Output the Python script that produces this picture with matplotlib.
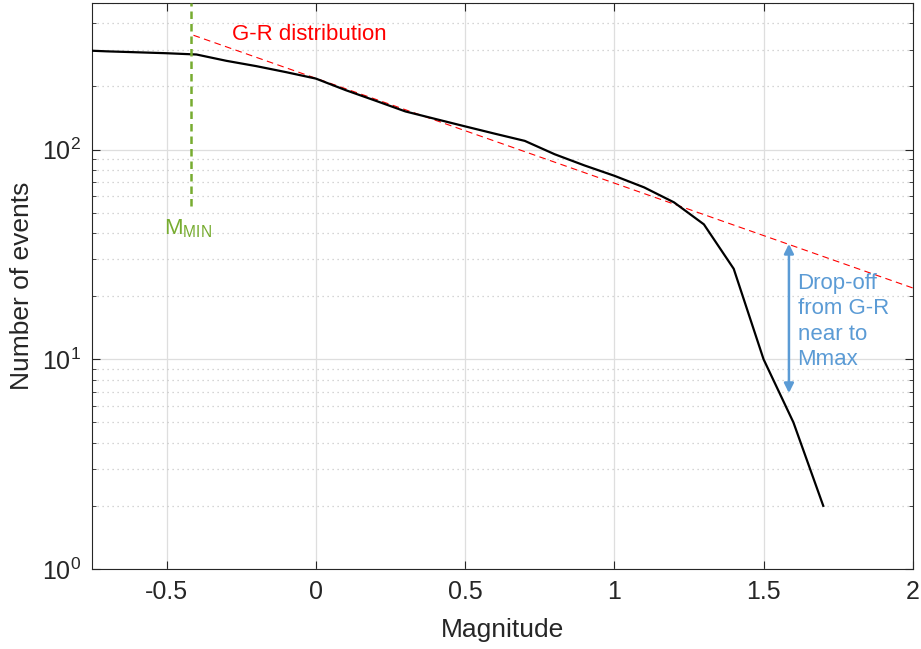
import numpy as np
import matplotlib
matplotlib.use("Agg")
import matplotlib.pyplot as plt
from matplotlib.ticker import LogLocator, FixedLocator

plt.rcParams['font.family'] = ['Liberation Sans', 'DejaVu Sans']
plt.rcParams['mathtext.fontset'] = 'custom'
plt.rcParams['mathtext.rm'] = 'Liberation Sans'
plt.rcParams['mathtext.it'] = 'Liberation Sans:italic'
plt.rcParams['mathtext.default'] = 'regular'

# observed cumulative counts
magnitude = [-0.8, -0.7, -0.6, -0.5, -0.4, -0.3, -0.2, -0.1, 0.0, 0.1, 0.2, 0.3,
             0.4, 0.5, 0.6, 0.7, 0.8, 0.9, 1.0, 1.1, 1.2, 1.3, 1.4, 1.5, 1.6, 1.7]
n_events = [298, 294, 291, 288, 284, 265, 250, 234, 218, 192, 171, 152,
            140, 129, 119, 110, 95, 84, 75, 66, 56, 44, 27, 10, 5, 2]

# Gutenberg-Richter fit: log10(N) = a - b*M
gr_a = 2.34
gr_b = 0.5
gr_range = [-0.41, 2.0]

m_min = -0.42
m_min_span = [54, 500]

arrow_m = 1.585
arrow_span = [35.5, 6.9]

TXT = '#262626'
BLUE = '#5B9BD5'

fig = plt.figure(figsize=(9.21, 6.49), dpi=100)
ax = fig.add_axes([0.0999, 0.1233, 0.8912, 0.8721])

gr_m = np.array(gr_range)
ax.plot(gr_m, 10 ** (gr_a - gr_b * gr_m), color='red', lw=0.8,
        dashes=(6, 4), zorder=3)
ax.plot(magnitude, n_events, color='black', lw=1.6, zorder=4)
ax.plot([m_min, m_min], m_min_span, color='#77AC30', lw=1.8,
        dashes=(3, 2), zorder=5)

ax.annotate('', xy=(arrow_m, arrow_span[1]), xytext=(arrow_m, arrow_span[0]),
            arrowprops=dict(arrowstyle='<|-|>', color=BLUE, lw=1.8,
                            mutation_scale=14, shrinkA=0, shrinkB=0))

ax.text(-0.28, 353, 'G-R distribution', color='red', fontsize=16,
        ha='left', va='center')
ax.text(-0.43, 42, r'M$_{MIN}$', color='#77AC30', fontsize=16,
        ha='center', va='center')
ax.text(1.614, 15.1, 'Drop-off\nfrom G-R\nnear to\nMmax', color=BLUE,
        fontsize=16, ha='left', va='center', linespacing=1.28)

ax.set_yscale('log')
ax.set_xlim(-0.75, 2)
ax.set_ylim(1, 500)
ax.xaxis.set_major_locator(FixedLocator([-0.5, 0, 0.5, 1, 1.5, 2]))
ax.set_xticklabels(['-0.5', '0', '0.5', '1', '1.5', '2'])
ax.yaxis.set_major_locator(LogLocator(base=10, numticks=10))
ax.yaxis.set_minor_locator(LogLocator(base=10, subs=np.arange(2, 10), numticks=10))
ax.yaxis.set_minor_formatter(plt.NullFormatter())

ax.grid(True, which='major', color='#DEDEDE', lw=0.9, ls='-')
ax.grid(True, which='minor', axis='y', color='#C8C8C8', lw=0.9, ls=(0, (1, 3)))
ax.set_axisbelow(True)

ax.tick_params(which='both', direction='in', top=True, right=True,
               colors=TXT, labelsize=18, pad=8)
ax.tick_params(which='major', length=6, width=0.8)
ax.tick_params(which='minor', length=3, width=0.6)
for s in ax.spines.values():
    s.set_color(TXT)
    s.set_linewidth(0.8)

ax.set_xlabel('Magnitude', fontsize=19, color=TXT, labelpad=10)
ax.set_ylabel('Number of events', fontsize=19, color=TXT, labelpad=6)

fig.savefig('out.png', dpi=100)
